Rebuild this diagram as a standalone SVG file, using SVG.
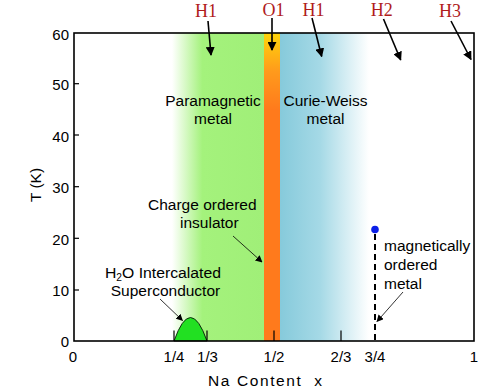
<svg xmlns="http://www.w3.org/2000/svg" width="480" height="391" viewBox="0 0 480 391">
<defs>
<linearGradient id="gGreen" x1="172" y1="0" x2="264" y2="0" gradientUnits="userSpaceOnUse">
<stop offset="0" stop-color="#ffffff"/>
<stop offset="0.33" stop-color="#a4f27c"/>
<stop offset="1" stop-color="#a0ef78"/>
</linearGradient>
<linearGradient id="gOrange" x1="0" y1="33" x2="0" y2="110" gradientUnits="userSpaceOnUse">
<stop offset="0" stop-color="#ffd60a"/>
<stop offset="0.5" stop-color="#ff9a1c"/>
<stop offset="1" stop-color="#ff7a1c"/>
</linearGradient>
<linearGradient id="gBlue" x1="280" y1="0" x2="369" y2="0" gradientUnits="userSpaceOnUse">
<stop offset="0" stop-color="#86cadb"/>
<stop offset="0.45" stop-color="#a5d9e6"/>
<stop offset="1" stop-color="#ffffff"/>
</linearGradient>
<marker id="ah" viewBox="0 0 10 10" refX="9" refY="5" markerWidth="9" markerHeight="9" markerUnits="userSpaceOnUse" orient="auto">
<path d="M0,0 L10,5 L0,10 z" fill="#000"/>
</marker>
<marker id="ahs" viewBox="0 0 10 10" refX="9" refY="5" markerWidth="7" markerHeight="7" markerUnits="userSpaceOnUse" orient="auto">
<path d="M0,0 L10,5 L0,10 z" fill="#000"/>
</marker>
</defs>
<style>
.lbl{font-family:"Liberation Sans",Arial,sans-serif;font-size:15.5px;fill:#000}
.tick{font-family:"Liberation Sans",Arial,sans-serif;font-size:15px;fill:#000}
.red{font-family:"Liberation Serif","Times New Roman",serif;font-size:18px;fill:#b01c1c;text-anchor:middle}
.harrow{stroke:#000;stroke-width:1.6;fill:none;marker-end:url(#ah)}
.larrow{stroke:#000;stroke-width:0.8;fill:none;marker-end:url(#ahs)}
.tk{stroke:#000;stroke-width:1.2}
</style>
<rect width="480" height="391" fill="#fff"/>

<g id="regions">
<rect id="paramagnetic-band" x="172" y="33" width="92" height="308" fill="url(#gGreen)"/>
<rect id="charge-ordered-band" x="264" y="33" width="16" height="308" fill="url(#gOrange)"/>
<rect id="curie-weiss-band" x="280" y="33" width="89" height="308" fill="url(#gBlue)"/>
</g>

<g id="superconductor-dome">
<path d="M174,341 Q190.5,294 207,341 Z" fill="#22e022" stroke="#000" stroke-width="0.8"/>
</g>

<g id="axes">
<rect x="74" y="33" width="400" height="308" fill="none" stroke="#000" stroke-width="1.6"/>
<line class="tk" x1="74" y1="83.7" x2="79" y2="83.7"/>
<line class="tk" x1="74" y1="135" x2="79" y2="135"/>
<line class="tk" x1="74" y1="186.7" x2="79" y2="186.7"/>
<line class="tk" x1="74" y1="238.3" x2="79" y2="238.3"/>
<line class="tk" x1="74" y1="290" x2="79" y2="290"/>
<line class="tk" x1="174" y1="341" x2="174" y2="330.5"/>
<line class="tk" x1="207" y1="341" x2="207" y2="330.5"/>
<line class="tk" x1="274" y1="341" x2="274" y2="330.5"/>
<line class="tk" x1="341" y1="341" x2="341" y2="330.5"/>
<g class="tick" text-anchor="end">
<text x="69" y="39.5">60</text>
<text x="69" y="90">50</text>
<text x="69" y="141.5">40</text>
<text x="69" y="193">30</text>
<text x="69" y="244.5">20</text>
<text x="69" y="296">10</text>
<text x="69" y="347">0</text>
</g>
<g class="tick" text-anchor="middle">
<text x="73" y="362">0</text>
<text x="174" y="362">1/4</text>
<text x="207.5" y="362">1/3</text>
<text x="274" y="362">1/2</text>
<text x="341" y="362">2/3</text>
<text x="375" y="362">3/4</text>
<text x="474" y="362">1</text>
</g>
<text class="lbl" x="208" y="386" font-size="16.5" letter-spacing="1.6" xml:space="preserve">Na Content  x</text>
<text class="lbl" font-size="16.5" transform="translate(41,185) rotate(-90)" text-anchor="middle">T (K)</text>
</g>

<g id="magnetic-transition">
<line x1="375" y1="234" x2="375" y2="341" stroke="#000" stroke-width="2" stroke-dasharray="6,4"/>
<circle cx="375" cy="229.5" r="3.8" fill="#0b1fe8"/>
</g>

<g id="region-labels">
<g id="paramagnetic-metal" class="lbl" text-anchor="middle">
<text x="213" y="106">Paramagnetic</text>
<text x="213" y="123.5">metal</text>
</g>
<g id="curie-weiss-metal" class="lbl" text-anchor="middle">
<text x="325.5" y="105.5">Curie-Weiss</text>
<text x="325.5" y="123.5">metal</text>
</g>
<g id="charge-ordered-insulator" class="lbl">
<text x="148" y="209.5">Charge ordered</text>
<text x="180" y="228">insulator</text>
</g>
<g id="h2o-superconductor" class="lbl" text-anchor="middle">
<text x="163" y="278" textLength="116" lengthAdjust="spacingAndGlyphs">H<tspan font-size="10" dy="3">2</tspan><tspan dy="-3">O Intercalated</tspan></text>
<text x="165.5" y="296">Superconductor</text>
</g>
<g id="magnetically-ordered-metal" class="lbl">
<text x="384" y="250.5">magnetically</text>
<text x="384" y="269.5">ordered</text>
<text x="384" y="288.5">metal</text>
</g>
</g>

<g id="top-labels">
<text class="red" x="206" y="16.5">H1</text>
<text class="red" x="273.5" y="16">O1</text>
<text class="red" x="313.5" y="16">H1</text>
<text class="red" x="381.7" y="15.5">H2</text>
<text class="red" x="450" y="17">H3</text>
</g>

<g id="connectors">
<line class="harrow" x1="208" y1="21" x2="211" y2="55"/>
<line class="harrow" x1="272" y1="18" x2="272" y2="50"/>
<line class="harrow" x1="312" y1="18" x2="321.7" y2="56.5"/>
<line class="harrow" x1="383.5" y1="19" x2="400.7" y2="60"/>
<line class="harrow" x1="451" y1="21" x2="471" y2="59.5"/>
<line class="larrow" x1="233" y1="236" x2="262" y2="262"/>
<line class="larrow" x1="160" y1="299" x2="182.5" y2="320.5"/>
<line class="larrow" x1="403" y1="292" x2="377" y2="321.5"/>
</g>
</svg>
